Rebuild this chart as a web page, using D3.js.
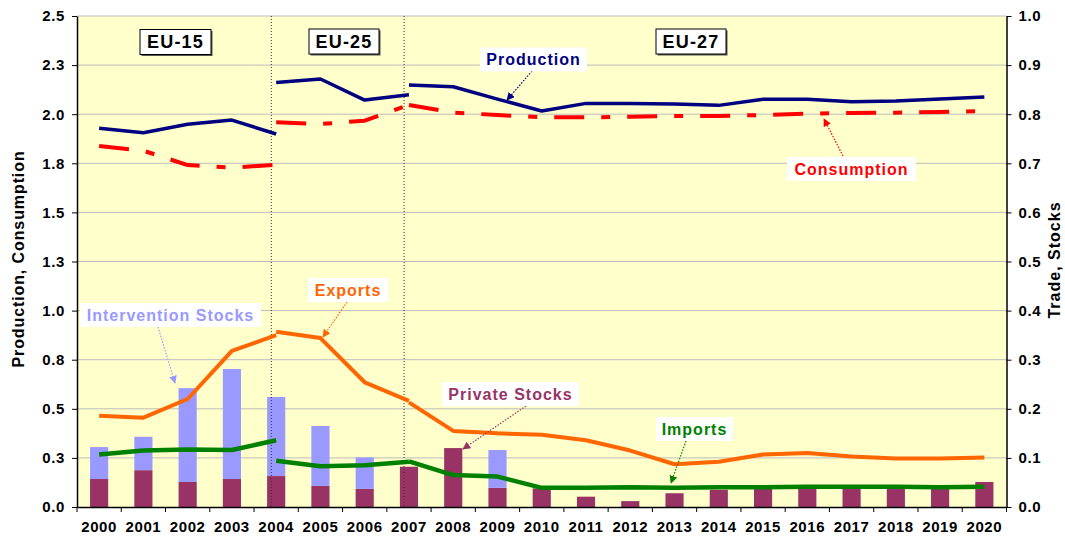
<!DOCTYPE html>
<html>
<head>
<meta charset="utf-8">
<script src="https://cdn.jsdelivr.net/npm/d3@7"></script>
<style>
  body { margin: 0; background: #fff; }
  text { font-family: "Liberation Sans", Arial, sans-serif; font-weight: bold; }
</style>
</head>
<body>
<div id="chart"></div>
<script>
// categories and tick labels
const years = ['2000', '2001', '2002', '2003', '2004', '2005', '2006', '2007', '2008', '2009', '2010',
  '2011', '2012', '2013', '2014', '2015', '2016', '2017', '2018', '2019', '2020'];
const eu15Years = ['2000', '2001', '2002', '2003', '2004'];
const eu25Years = ['2004', '2005', '2006', '2007'];
const eu27Years = ['2007', '2008', '2009', '2010', '2011', '2012', '2013', '2014', '2015', '2016', '2017',
  '2018', '2019', '2020'];
const leftTicks = [0, 0.25, 0.5, 0.75, 1, 1.25, 1.5, 1.75, 2, 2.25, 2.5];
const leftTickLabels = ['0.0', '0.3', '0.5', '0.8', '1.0', '1.3', '1.5', '1.8', '2.0', '2.3', '2.5'];
const rightTicks = [0, 0.1, 0.2, 0.3, 0.4, 0.5, 0.6, 0.7, 0.8, 0.9, 1];
const rightTickLabels = ['0.0', '0.1', '0.2', '0.3', '0.4', '0.5', '0.6', '0.7', '0.8', '0.9', '1.0'];

// left axis series (production, consumption)
const production15 = [1.928, 1.906, 1.949, 1.970, 1.899];
const production25 = [2.162, 2.179, 2.072, 2.099];
const production27 = [2.149, 2.140, 2.077, 2.016, 2.055, 2.054, 2.052, 2.045, 2.076, 2.076, 2.064, 2.067, 2.077, 2.088];
const consumption15 = [1.838, 1.814, 1.741, 1.728, 1.743];
const consumption25 = [1.959, 1.950, 1.967, 2.047];
const consumption27 = [2.047, 2.008, 1.996, 1.984, 1.984, 1.987, 1.991, 1.991, 1.996, 2.003, 2.006, 2.008, 2.011, 2.016];

// right axis series (trade, stocks)
const exports15 = [0.186, 0.182, 0.220, 0.318, 0.350];
const exports25 = [0.357, 0.344, 0.254, 0.216];
const exports27 = [0.213, 0.155, 0.150, 0.147, 0.136, 0.115, 0.087, 0.092, 0.107, 0.110, 0.103, 0.099, 0.099, 0.101];
const imports15 = [0.107, 0.115, 0.117, 0.116, 0.136];
const imports25 = [0.094, 0.083, 0.085, 0.092];
const imports27 = [0.093, 0.065, 0.062, 0.039, 0.039, 0.040, 0.039, 0.040, 0.040, 0.041, 0.041, 0.041, 0.040, 0.041];
const privateStocks = [0.057, 0.075, 0.051, 0.057, 0.063, 0.043, 0.037, 0.082, 0.120, 0.039, 0.038,
  0.021, 0.012, 0.028, 0.035, 0.040, 0.040, 0.040, 0.040, 0.040, 0.051];
const interventionStocks = [0.065, 0.068, 0.191, 0.224, 0.161, 0.122, 0.064, 0, 0, 0.077, 0,
  0, 0, 0, 0, 0, 0, 0, 0, 0, 0];

// chart parameters
const svgWidth = 1065;
const svgHeight = 536;
const margin = { top: 16, right: 58.5, bottom: 29, left: 77 };
const width = svgWidth - margin.left - margin.right;
const height = svgHeight - margin.top - margin.bottom;

const svg = d3.select('#chart').append('svg')
  .attr('width', svgWidth)
  .attr('height', svgHeight);
const chartGroup = svg.append('g')
  .attr('transform', `translate(${margin.left}, ${margin.top})`);

// scales
const x = d3.scaleBand().domain(years).range([0, width]).padding(0);
const yLeft = d3.scaleLinear().domain([0, 2.5]).range([height, 0]);
const yRight = d3.scaleLinear().domain([0, 1]).range([height, 0]);
const cx = yr => x(yr) + x.bandwidth() / 2;

// plot background and gridlines
chartGroup.append('rect')
  .attr('width', width).attr('height', height)
  .attr('fill', '#FFFFCC');
chartGroup.selectAll('.grid')
  .data(leftTicks.slice(1))
  .enter().append('line')
  .attr('x1', 0).attr('x2', width)
  .attr('y1', d => yLeft(d)).attr('y2', d => yLeft(d))
  .attr('stroke', '#BDBDBD').attr('stroke-width', 1);

// stacked stock bars
const stockData = years.map((yr, i) => ({ year: yr, private: privateStocks[i], intervention: interventionStocks[i] }));
const stacked = d3.stack().keys(['private', 'intervention'])(stockData);
const barColors = { private: '#993366', intervention: '#9999FF' };
const barW = x.bandwidth() * 0.41;
stacked.forEach(layer => {
  chartGroup.append('g').selectAll('rect')
    .data(layer.filter(d => d[1] > d[0]))
    .enter().append('rect')
    .attr('x', d => x(d.data.year) + (x.bandwidth() - barW) / 2)
    .attr('width', barW)
    .attr('y', d => yRight(d[1]))
    .attr('height', d => yRight(d[0]) - yRight(d[1]))
    .attr('fill', barColors[layer.key]);
});

// EU enlargement dividers
['2004', '2007'].forEach(yr => {
  const xp = x(yr) + x.bandwidth() * 0.39;
  chartGroup.append('line')
    .attr('x1', xp).attr('x2', xp)
    .attr('y1', 0).attr('y2', height)
    .attr('stroke', '#333').attr('stroke-width', 1)
    .attr('stroke-dasharray', '1,2');
});

// line segments
const drawSegment = (yrs, vals, scale, color, strokeW, dash) => {
  const line = d3.line()
    .x((d, i) => cx(yrs[i]))
    .y(d => scale(d));
  chartGroup.append('path')
    .datum(vals)
    .attr('d', line)
    .attr('fill', 'none')
    .attr('stroke', color)
    .attr('stroke-width', strokeW)
    .attr('stroke-linejoin', 'round')
    .attr('stroke-dasharray', dash || null);
};
const dashCons = '30,17,9,17';
drawSegment(eu15Years, imports15, yRight, '#008000', 4.5);
drawSegment(eu25Years, imports25, yRight, '#008000', 4.5);
drawSegment(eu27Years, imports27, yRight, '#008000', 4.5);
drawSegment(eu15Years, exports15, yRight, '#FF6600', 4);
drawSegment(eu25Years, exports25, yRight, '#FF6600', 4);
drawSegment(eu27Years, exports27, yRight, '#FF6600', 4);
drawSegment(eu15Years, consumption15, yLeft, '#FF0000', 4, dashCons);
drawSegment(eu25Years, consumption25, yLeft, '#FF0000', 4, dashCons);
drawSegment(eu27Years, consumption27, yLeft, '#FF0000', 4, dashCons);
drawSegment(eu15Years, production15, yLeft, '#000080', 3.5);
drawSegment(eu25Years, production25, yLeft, '#000080', 3.5);
drawSegment(eu27Years, production27, yLeft, '#000080', 3.5);

// axes
const leftAxis = d3.axisLeft(yLeft).tickValues(leftTicks)
  .tickFormat((d, i) => leftTickLabels[i]).tickSize(5).tickSizeOuter(0).tickPadding(7);
const rightAxis = d3.axisRight(yRight).tickValues(rightTicks)
  .tickFormat((d, i) => rightTickLabels[i]).tickSize(5).tickSizeOuter(0).tickPadding(7);
const bottomAxis = d3.axisBottom(x).tickSize(0).tickPadding(14);

const styleAxis = g => {
  g.select('.domain').attr('stroke', '#000').attr('stroke-width', 1.5);
  g.selectAll('.tick line').attr('stroke', '#000');
  g.selectAll('text')
    .attr('fill', '#000')
    .style('font-size', '15px')
    .style('font-weight', 'bold')
    .style('letter-spacing', '0.6px')
    .style('font-family', '"Liberation Sans", Arial, sans-serif');
};
chartGroup.append('g').call(leftAxis).call(styleAxis);
chartGroup.append('g').attr('transform', `translate(${width}, 0)`).call(rightAxis).call(styleAxis);
chartGroup.append('g').attr('transform', `translate(0, ${height})`).call(bottomAxis).call(styleAxis);
// x ticks at category boundaries
chartGroup.append('g').selectAll('line')
  .data(years.concat(['end']))
  .enter().append('line')
  .attr('x1', d => d === 'end' ? width : x(d))
  .attr('x2', d => d === 'end' ? width : x(d))
  .attr('y1', height).attr('y2', height + 5)
  .attr('stroke', '#000');

// axis titles
svg.append('text')
  .attr('transform', 'translate(24, 259) rotate(-90)')
  .attr('text-anchor', 'middle')
  .style('font-size', '16px')
  .style('letter-spacing', '0.9px')
  .text('Production, Consumption');
svg.append('text')
  .attr('transform', 'translate(1060, 260) rotate(-90)')
  .attr('text-anchor', 'middle')
  .style('font-size', '16px')
  .style('letter-spacing', '1px')
  .text('Trade, Stocks');

// arrow markers
const defs = svg.append('defs');
const annoColors = ['#000080', '#FF0000', '#FF6600', '#9999FF', '#993366', '#008000'];
annoColors.forEach((c, i) => {
  defs.append('marker')
    .attr('id', `arrow${i}`)
    .attr('viewBox', '0 0 10 10')
    .attr('refX', 9).attr('refY', 5)
    .attr('markerWidth', 8).attr('markerHeight', 8)
    .attr('markerUnits', 'userSpaceOnUse')
    .attr('orient', 'auto')
    .append('path')
    .attr('d', 'M0,0L10,5L0,10z')
    .attr('fill', c);
});

// series annotations
const annotations = [
  { text: 'Production', color: 0, box: [480, 47.5, 107, 24], arrow: [532, 71, 507, 100] },
  { text: 'Consumption', color: 1, box: [787, 157, 129, 24], arrow: [843, 156, 824, 119] },
  { text: 'Exports', color: 2, box: [308, 278, 80, 24], arrow: [347, 302, 323, 337] },
  { text: 'Intervention Stocks', color: 3, box: [80, 303, 181, 24], arrow: [158, 327, 175, 383] },
  { text: 'Private Stocks', color: 4, box: [442, 382, 137, 24], arrow: [526, 406, 463, 449] },
  { text: 'Imports', color: 5, box: [656, 417, 77, 24], arrow: [686, 441, 671, 483] }
];
annotations.forEach(a => {
  const c = annoColors[a.color];
  svg.append('line')
    .attr('x1', a.arrow[0]).attr('y1', a.arrow[1])
    .attr('x2', a.arrow[2]).attr('y2', a.arrow[3])
    .attr('stroke', c).attr('stroke-width', 1.2)
    .attr('stroke-dasharray', '1.5,1.5')
    .attr('marker-end', `url(#arrow${a.color})`);
  svg.append('rect')
    .attr('x', a.box[0]).attr('y', a.box[1])
    .attr('width', a.box[2]).attr('height', a.box[3])
    .attr('fill', '#fff');
  svg.append('text')
    .attr('x', a.box[0] + a.box[2] / 2)
    .attr('y', a.box[1] + a.box[3] / 2)
    .attr('dy', '0.36em')
    .attr('text-anchor', 'middle')
    .attr('fill', c)
    .style('font-size', '16px')
    .style('letter-spacing', '1px')
    .text(a.text);
});

// EU period boxes
const periods = [
  { text: 'EU-15', box: [140, 29.5, 71, 25] },
  { text: 'EU-25', box: [309, 29, 70, 25] },
  { text: 'EU-27', box: [656, 29, 70, 25] }
];
periods.forEach(p => {
  svg.append('rect')
    .attr('x', p.box[0] + 1.5).attr('y', p.box[1] + 1.5)
    .attr('width', p.box[2]).attr('height', p.box[3])
    .attr('fill', '#555');
  svg.append('rect')
    .attr('x', p.box[0]).attr('y', p.box[1])
    .attr('width', p.box[2]).attr('height', p.box[3])
    .attr('fill', '#fff').attr('stroke', '#000').attr('stroke-width', 1);
  svg.append('text')
    .attr('x', p.box[0] + p.box[2] / 2)
    .attr('y', p.box[1] + p.box[3] / 2)
    .attr('dy', '0.36em')
    .attr('text-anchor', 'middle')
    .style('font-size', '18px')
    .style('letter-spacing', '1.2px')
    .text(p.text);
});
</script>
</body>
</html>
